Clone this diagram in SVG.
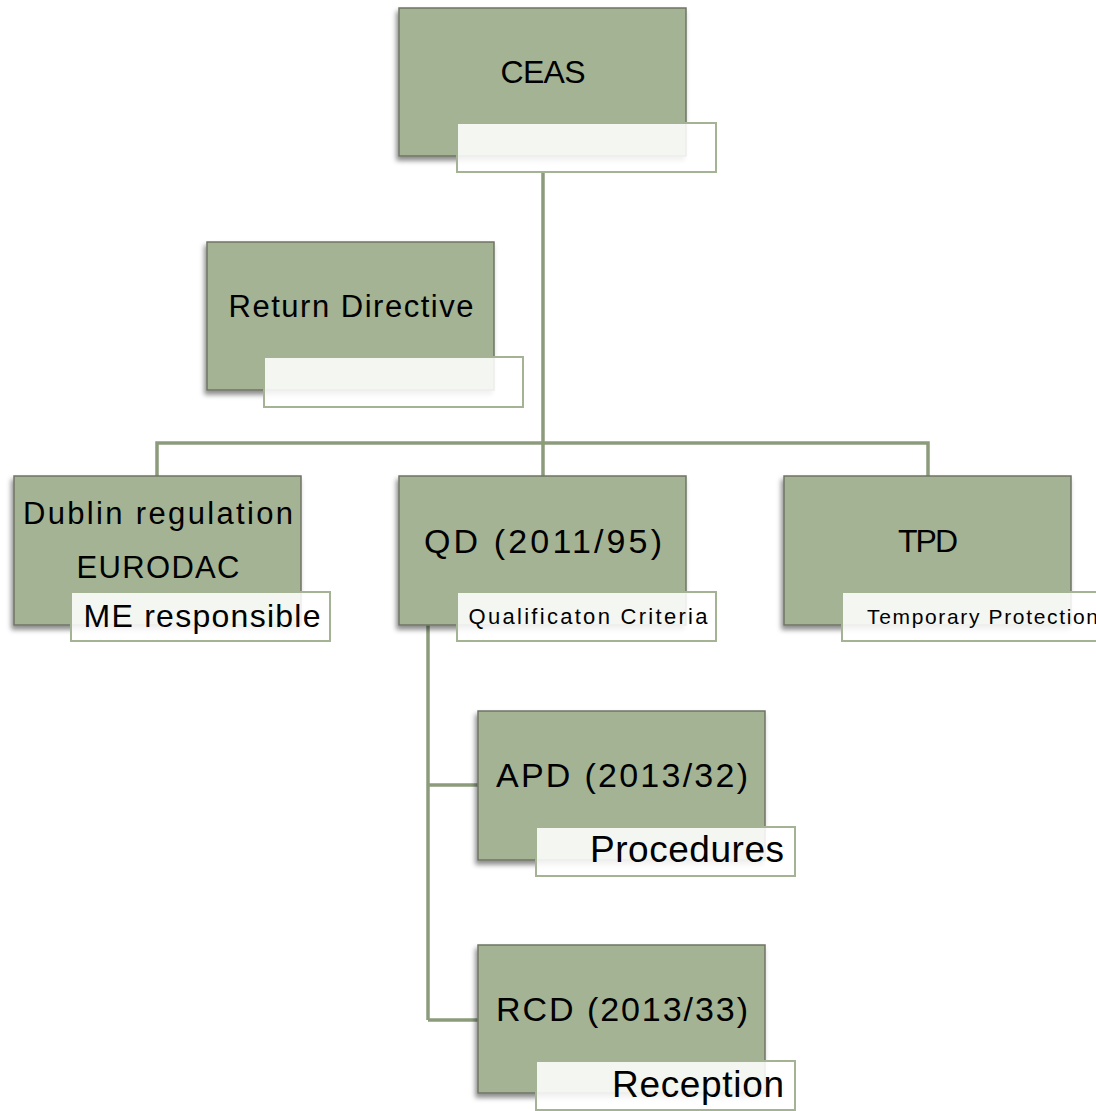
<svg xmlns="http://www.w3.org/2000/svg" width="1096" height="1111" viewBox="0 0 1096 1111">
<defs>
<filter id="sh" x="-10%" y="-10%" width="120%" height="130%">
<feDropShadow dx="-2" dy="4" stdDeviation="2.5" flood-color="#000" flood-opacity="0.45"/>
</filter>
<style>
.box{fill:#a4b393;stroke:#6f7566;stroke-width:1.5;filter:url(#sh)}
.lab{fill:#ffffff;fill-opacity:0.88;stroke:#a4b393;stroke-width:2}
.t{font-family:"Liberation Sans","DejaVu Sans",sans-serif;fill:#000;text-anchor:middle}
.conn{fill:none;stroke:#8c9c7b;stroke-width:3.5}
</style>
</defs>
<rect width="1096" height="1111" fill="#fff"/>
<g id="connectors">
<path class="conn" d="M543 172V443M157 476V443H928V476M543 443V476"/>
<path class="conn" d="M428 625V1020M428 785H478M428 1020H478"/>
</g>
<g id="ceas">
<rect class="box" x="399" y="8" width="287" height="148"/>
<text class="t" x="543" y="83" font-size="32" textLength="85" lengthAdjust="spacing">CEAS</text>
<rect class="lab" x="457" y="123" width="259" height="49"/>
</g>
<g id="return">
<rect class="box" x="207" y="242" width="287" height="148"/>
<text class="t" x="351" y="317" font-size="31" textLength="245" lengthAdjust="spacing">Return Directive</text>
<rect class="lab" x="264" y="357" width="259" height="50"/>
</g>
<g id="dublin">
<rect class="box" x="14" y="476" width="287" height="149"/>
<text class="t" x="158" y="524" font-size="31" textLength="270" lengthAdjust="spacing">Dublin regulation</text>
<text class="t" x="158" y="578" font-size="31" textLength="163" lengthAdjust="spacing">EURODAC</text>
<rect class="lab" x="71" y="592" width="259" height="49"/>
<text class="t" x="202" y="627" font-size="32" textLength="237" lengthAdjust="spacing">ME responsible</text>
</g>
<g id="qd">
<rect class="box" x="399" y="476" width="287" height="149"/>
<text class="t" x="543" y="553" font-size="34" textLength="238" lengthAdjust="spacing">QD (2011/95)</text>
<rect class="lab" x="457" y="592" width="259" height="49"/>
<text class="t" x="588" y="624" font-size="22" textLength="239" lengthAdjust="spacing">Qualificaton Criteria</text>
</g>
<g id="tpd">
<rect class="box" x="784" y="476" width="287" height="149"/>
<text class="t" x="928" y="552" font-size="32" textLength="60" lengthAdjust="spacing">TPD</text>
<rect class="lab" x="842" y="592" width="259" height="49"/>
<text class="t" x="867" y="624" font-size="21" textLength="231" lengthAdjust="spacing" style="text-anchor:start">Temporary Protection</text>
</g>
<g id="apd">
<rect class="box" x="478" y="711" width="287" height="149"/>
<text class="t" x="622" y="787" font-size="34" textLength="252" lengthAdjust="spacing">APD (2013/32)</text>
<rect class="lab" x="536" y="827" width="259" height="49"/>
<text class="t" x="784" y="862" font-size="37" textLength="194" lengthAdjust="spacing" style="text-anchor:end">Procedures</text>
</g>
<g id="rcd">
<rect class="box" x="478" y="945" width="287" height="148"/>
<text class="t" x="622" y="1021" font-size="34" textLength="252" lengthAdjust="spacing">RCD (2013/33)</text>
<rect class="lab" x="536" y="1061" width="259" height="49"/>
<text class="t" x="784" y="1097" font-size="37" textLength="172" lengthAdjust="spacing" style="text-anchor:end">Reception</text>
</g>
</svg>
